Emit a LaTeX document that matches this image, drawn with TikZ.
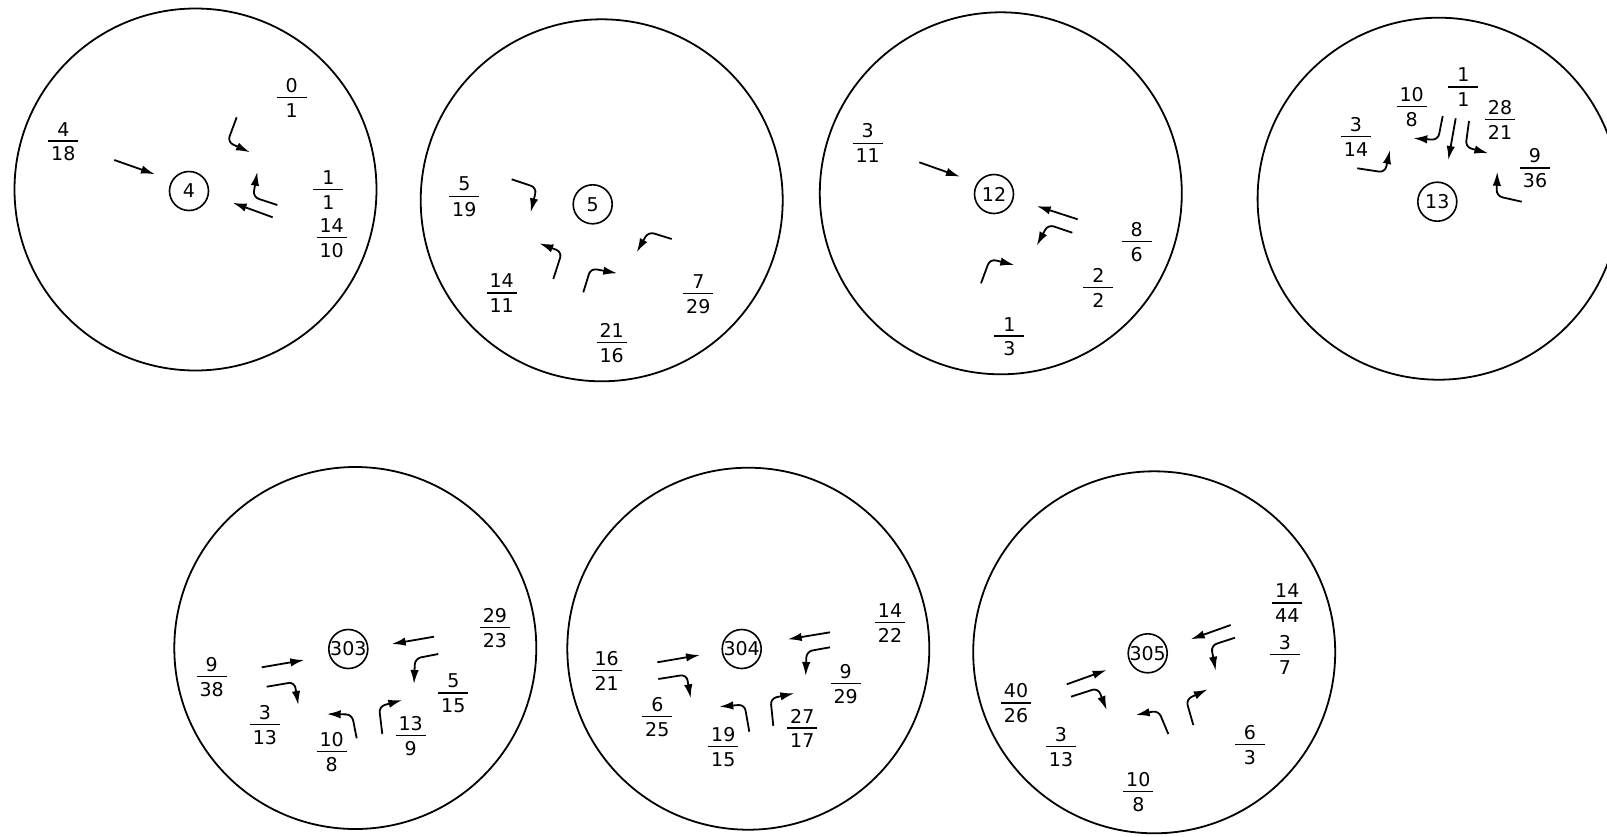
\documentclass[tikz,border=0pt]{standalone}
\usepackage{fontspec}
\setmainfont{DejaVu Sans}
\usetikzlibrary{arrows.meta}
\newcommand\fr[2]{\vbox{\offinterlineskip\halign{\hbox to 15pt{\hss##\hss}\cr #1\cr\noalign{\kern2.2pt\hrule height0.6pt\kern2.6pt}#2\cr}}}
\begin{document}
\begin{tikzpicture}[x=0.5pt,y=-0.5pt,font=\fontsize{9.5}{11}\selectfont,
  big/.style={circle,draw,line width=0.9pt,minimum size=181pt,inner sep=0pt},
  hub/.style={circle,draw,line width=0.8pt,minimum size=19.5pt,inner sep=0pt},
  lab/.style={inner sep=0pt},
  arr/.style={line width=0.9pt,-{Latex[length=7pt,width=4.2pt]}},
  bent/.style={arr,rounded corners=3pt}]
\useasboundingbox (0,0) rectangle (1607,836);
% ---------- circle 1
\node[big] (C1) at (195.5,189.5) {};
\node[hub] (h1) at (189,191) {4};
\node[lab] (l1a) at (63.3,141.7) {\fr{4}{18}};
\node[lab] (l1b) at (291.7,97.7) {\fr{0}{1}};
\node[lab] (l1c) at (328.3,190) {\fr{1}{1}};
\node[lab] (l1d) at (331.7,238.3) {\fr{14}{10}};
\draw[arr] (114.3,160) -- (155,174.3);
\draw[bent] (236.7,117.3) -- (227.5,142) -- (250,152.3);
\draw[bent] (277.3,205) -- (253,197) -- (257.3,171.7);
\draw[arr] (272.7,217.3) -- (232.7,202.7);
% ---------- circle 2
\node[big] (C2) at (601.7,200.3) {};
\node[hub] (h2) at (592.7,204.3) {5};
\node[lab] (l2a) at (464.3,196.7) {\fr{5}{19}};
\node[lab] (l2b) at (501.7,293.3) {\fr{14}{11}};
\node[lab] (l2c) at (611.7,343.3) {\fr{21}{16}};
\node[lab] (l2d) at (698.3,294.3) {\fr{7}{29}};
\draw[bent] (511.7,179.3) -- (536.7,187.7) -- (530.7,212.3);
\draw[bent] (553.3,279) -- (562,252) -- (539.3,243.3);
\draw[bent] (583.3,292.3) -- (590.7,268.3) -- (617.3,273.3);
\draw[bent] (671.7,239) -- (648.3,231.7) -- (636.7,252.3);
% ---------- circle 3
\node[big] (C3) at (1000.8,193.3) {};
\node[hub] (h3) at (994,194) {12};
\node[lab] (l3a) at (867.7,143.3) {\fr{3}{11}};
\node[lab] (l3b) at (1136.7,241.7) {\fr{8}{6}};
\node[lab] (l3c) at (1098.3,287.7) {\fr{2}{2}};
\node[lab] (l3d) at (1009.3,336.7) {\fr{1}{3}};
\draw[arr] (919.3,162.3) -- (960,176.7);
\draw[arr] (1077.7,219.3) -- (1036.7,206);
\draw[bent] (1072.3,232.7) -- (1048,224.5) -- (1036.7,245.7);
\draw[bent] (981,283.3) -- (990,259) -- (1014.3,265);
% ---------- circle 4
\node[big] (C4) at (1438.6,198.7) {};
\node[hub] (h4) at (1437.3,201.7) {13};
\node[lab] (l4a) at (1463.3,87.3) {\fr{1}{1}};
\node[lab] (l4b) at (1411.7,106.7) {\fr{10}{8}};
\node[lab] (l4c) at (1500,120) {\fr{28}{21}};
\node[lab] (l4d) at (1356,136.7) {\fr{3}{14}};
\node[lab] (l4e) at (1535,168.3) {\fr{9}{36}};
\draw[arr] (1455.7,118.3) -- (1448.3,160);
\draw[bent] (1442.7,116) -- (1438,140) -- (1413.3,138.3);
\draw[bent] (1469,121) -- (1465.5,147) -- (1488.3,153.3);
\draw[bent] (1357.3,168.3) -- (1385,172.5) -- (1390,150);
\draw[bent] (1521.7,201.7) -- (1496.5,196) -- (1497.3,171.7);
% ---------- circle 5
\node[big] (C5) at (355.3,648) {};
\node[hub] (h5) at (348.3,649) {303};
\node[lab] (l5a) at (211.7,676.7) {\fr{9}{38}};
\node[lab] (l5b) at (265,725) {\fr{3}{13}};
\node[lab] (l5c) at (331.7,751.7) {\fr{10}{8}};
\node[lab] (l5d) at (410.7,735.7) {\fr{13}{9}};
\node[lab] (l5e) at (453.3,693.3) {\fr{5}{15}};
\node[lab] (l5f) at (495,627.7) {\fr{29}{23}};
\draw[arr] (261.7,667.3) -- (304.3,660);
\draw[bent] (266.7,686.7) -- (294.5,682) -- (298.3,705);
\draw[bent] (356.7,738.3) -- (352,714.5) -- (326.7,714);
\draw[bent] (382.3,734) -- (379,706.5) -- (402.3,700);
\draw[arr] (434,636.7) -- (391.7,644);
\draw[bent] (438.3,654) -- (415,658.5) -- (414,684);
% ---------- circle 6
\node[big] (C6) at (748.3,648.7) {};
\node[hub] (h6) at (741.7,649) {304};
\node[lab] (l6a) at (606.7,671) {\fr{16}{21}};
\node[lab] (l6b) at (657.3,716.7) {\fr{6}{25}};
\node[lab] (l6c) at (723.3,746.7) {\fr{19}{15}};
\node[lab] (l6d) at (802.3,728.3) {\fr{27}{17}};
\node[lab] (l6e) at (845.7,684) {\fr{9}{29}};
\node[lab] (l6f) at (890,622.7) {\fr{14}{22}};
\draw[arr] (657.3,662.3) -- (700,655);
\draw[bent] (658.3,679) -- (686.5,674.5) -- (690.7,698.3);
\draw[bent] (749.3,731.7) -- (744.5,704.5) -- (719.3,706.7);
\draw[bent] (773.3,726) -- (770.5,698.5) -- (794.3,693.3);
\draw[arr] (830,632.3) -- (787.7,639.3);
\draw[bent] (830,647.3) -- (806.5,651.5) -- (805.7,676);
% ---------- circle 7
\node[big] (C7) at (1154.2,652.3) {};
\node[hub] (h7) at (1147.7,653.3) {305};
\node[lab] (l7a) at (1287.3,603.3) {\fr{14}{44}};
\node[lab] (l7b) at (1285,655) {\fr{3}{7}};
\node[lab] (l7c) at (1016,703.3) {\fr{40}{26}};
\node[lab] (l7d) at (1061,746.7) {\fr{3}{13}};
\node[lab] (l7e) at (1138.3,791.7) {\fr{10}{8}};
\node[lab] (l7f) at (1250,745) {\fr{6}{3}};
\draw[arr] (1066.7,684.3) -- (1106.7,670);
\draw[bent] (1071,696.7) -- (1098,688) -- (1106.7,710);
\draw[bent] (1168.3,734) -- (1158.5,710.5) -- (1135.7,715);
\draw[bent] (1193.3,725) -- (1186,699.5) -- (1207.7,689.3);
\draw[arr] (1230.7,625) -- (1190.7,639.3);
\draw[bent] (1235,637.7) -- (1211,645.5) -- (1215.7,670.7);
\end{tikzpicture}
\end{document}
